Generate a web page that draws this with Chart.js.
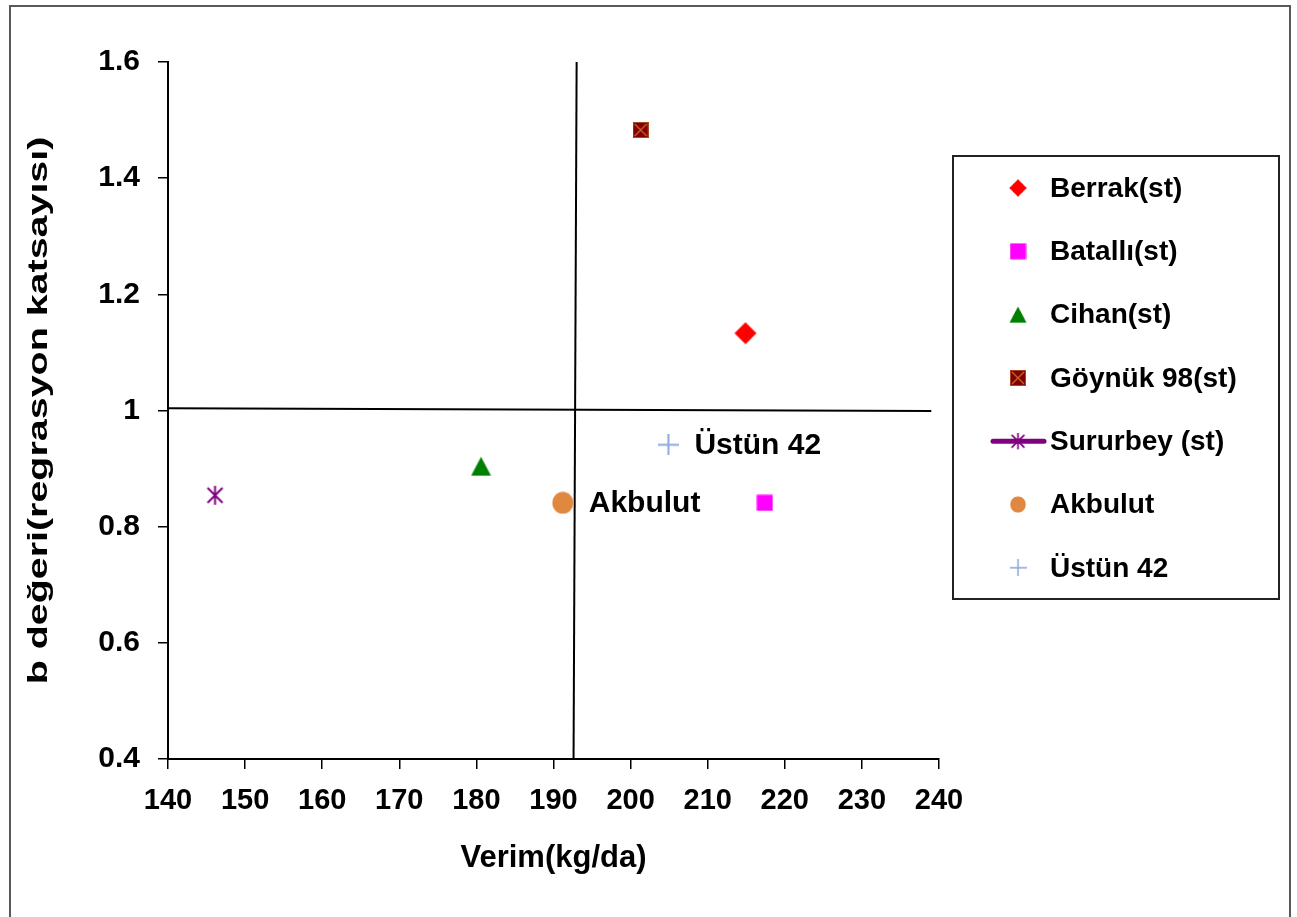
<!DOCTYPE html>
<html><head><meta charset="utf-8">
<script src="https://cdn.jsdelivr.net/npm/chart.js@4.4.0/dist/chart.umd.min.js"></script>
<style>html,body{margin:0;padding:0;background:#fff;overflow:hidden}#wrap{position:relative;width:1297px;height:917px}</style>
</head><body><div id="wrap"><canvas id="c" width="1297" height="917"></canvas></div>
<script>
// ---- data ----
const seriesNames = ['Berrak(st)', 'Batallı(st)', 'Cihan(st)', 'Göynük 98(st)', 'Sururbey (st)', 'Akbulut', 'Üstün 42'];
const verim = [214.9, 217.4, 180.6, 201.3, 146.1, 191.2, 204.9];
const bDegeri = [1.133, 0.841, 0.904, 1.483, 0.854, 0.841, 0.941];
const seriesColors = ['#FF0000', '#FF00FF', '#008000', '#800000', '#800080', '#E0883F', '#8EA9DB'];
const xTickValues = [140, 150, 160, 170, 180, 190, 200, 210, 220, 230, 240];
const yTickValues = [0.4, 0.6, 0.8, 1.0, 1.2, 1.4, 1.6];
const vLineX = [193.0, 192.6];
const vLineY = [1.6, 0.4];
const hLineX = [140, 239];
const hLineY = [1.004, 0.999];
const labeledSeries = ['Akbulut', 'Üstün 42'];
const xTitle = 'Verim(kg/da)';
const yTitle = 'b değeri(regrasyon katsayısı)';

const FONT = "'Liberation Sans', Arial, sans-serif";

// ---- marker images ----
function mk(w, h, fn) {
  const c = document.createElement('canvas');
  c.width = w; c.height = h;
  const g = c.getContext('2d');
  fn(g, w, h);
  return c;
}
const markers = [
  mk(24, 24, (g) => { g.fillStyle = '#FF0000'; g.beginPath(); g.moveTo(12, 1); g.lineTo(23, 12); g.lineTo(12, 23); g.lineTo(1, 12); g.closePath(); g.fill(); }),
  mk(17, 17, (g) => { g.fillStyle = '#FF00FF'; g.fillRect(0.5, 0.5, 16, 16); }),
  mk(21, 20, (g) => { g.fillStyle = '#008000'; g.beginPath(); g.moveTo(10.5, 0.5); g.lineTo(20.5, 19.5); g.lineTo(0.5, 19.5); g.closePath(); g.fill(); }),
  mk(16, 16, (g) => { g.fillStyle = '#800000'; g.fillRect(0.5, 0.5, 15, 15); g.strokeStyle = '#C8642C'; g.lineWidth = 1.4; g.beginPath(); g.moveTo(2, 2); g.lineTo(14, 14); g.moveTo(14, 2); g.lineTo(2, 14); g.stroke(); g.strokeStyle='#A84828'; g.lineWidth=1; g.strokeRect(0.5,0.5,15,15); }),
  mk(19, 21, (g) => { g.strokeStyle = '#800080'; g.lineWidth = 2; g.beginPath(); g.moveTo(9.5, 1); g.lineTo(9.5, 20); g.moveTo(2, 3); g.lineTo(17, 18); g.moveTo(17, 3); g.lineTo(2, 18); g.stroke(); }),
  mk(22, 23, (g) => { g.fillStyle = '#E0883F'; g.beginPath(); g.ellipse(11, 11.5, 10.5, 11, 0, 0, Math.PI * 2); g.fill(); }),
  mk(21, 21, (g) => { g.strokeStyle = '#8EA9DB'; g.lineWidth = 2; g.beginPath(); g.moveTo(10.5, 0); g.lineTo(10.5, 21); g.moveTo(0, 10.5); g.lineTo(21, 10.5); g.stroke(); })
];
const legendSize = [19, 17, 18, 16, 18, 17, 17];

const datasets = seriesNames.map((n, i) => ({
  label: n,
  data: [{ x: verim[i], y: bDegeri[i] }],
  pointStyle: markers[i],
  pointRadius: 12,
  backgroundColor: seriesColors[i],
  borderColor: seriesColors[i],
  showLine: false
}));
datasets.push({ label: '_v', data: vLineX.map((x, i) => ({ x, y: vLineY[i] })), showLine: true, borderColor: '#000', borderWidth: 2, pointRadius: 0 });
datasets.push({ label: '_h', data: hLineX.map((x, i) => ({ x, y: hLineY[i] })), showLine: true, borderColor: '#000', borderWidth: 2, pointRadius: 0 });

const decor = {
  id: 'decor',
  afterDraw(chart) {
    const ctx = chart.ctx;
    const xs = chart.scales.x, ys = chart.scales.y;
    ctx.save();
    // outer frame
    ctx.strokeStyle = '#595959'; ctx.lineWidth = 2;
    ctx.beginPath(); ctx.moveTo(10, 930); ctx.lineTo(10, 6); ctx.lineTo(1290, 6); ctx.lineTo(1290, 930); ctx.stroke();
    // y axis title (stretched along its length as in the original)
    ctx.save();
    ctx.fillStyle = '#000'; ctx.font = 'bold 27px ' + FONT; ctx.textAlign = 'center'; ctx.textBaseline = 'middle';
    ctx.translate(40, (ys.top + ys.bottom) / 2);
    ctx.rotate(-Math.PI / 2);
    ctx.scale(1.46, 1);
    ctx.fillText(yTitle, 0, 0);
    ctx.restore();
    // data labels
    ctx.fillStyle = '#000'; ctx.font = 'bold 30px ' + FONT; ctx.textBaseline = 'middle'; ctx.textAlign = 'left';
    labeledSeries.forEach(name => {
      const i = seriesNames.indexOf(name);
      const px = xs.getPixelForValue(verim[i]), py = ys.getPixelForValue(bDegeri[i]);
      ctx.fillText(name, px + 26, py + 1);
    });
    // legend box
    ctx.strokeStyle = '#222'; ctx.lineWidth = 2;
    ctx.strokeRect(953, 156, 326, 443);
    ctx.font = 'bold 28px ' + FONT; ctx.fillStyle = '#000';
    seriesNames.forEach((n, i) => {
      const cy = 188 + i * 63.3;
      if (i === 4) {
        ctx.strokeStyle = '#800080'; ctx.lineWidth = 5; ctx.lineCap = 'round';
        ctx.beginPath(); ctx.moveTo(993, cy); ctx.lineTo(1044, cy); ctx.stroke();
      }
      const m = markers[i];
      const s = legendSize[i] / Math.max(m.width, m.height);
      const w = m.width * s, h = m.height * s;
      ctx.drawImage(m, 1018 - w / 2, cy - h / 2, w, h);
      ctx.fillText(n, 1050, cy + 1);
    });
    ctx.restore();
  }
};

new Chart(document.getElementById('c'), {
  type: 'scatter',
  data: { datasets },
  options: {
    responsive: false,
    devicePixelRatio: 1,
    animation: false,
    events: [],
    layout: { padding: { left: 0, top: 62, right: 358, bottom: 0 } },
    plugins: { legend: { display: false }, tooltip: { enabled: false } },
    scales: {
      x: {
        type: 'linear', min: 140, max: 240,
        afterFit(s) { s.height = 158; },
        afterBuildTicks(s) { s.ticks = xTickValues.map(v => ({ value: v })); },
        ticks: { color: '#000', font: { family: FONT, weight: 'bold', size: 29 }, padding: 15, maxRotation: 0, autoSkip: false },
        grid: { drawOnChartArea: false, drawTicks: true, tickLength: 10, color: '#000', lineWidth: 1.5 },
        border: { color: '#000', width: 2 },
        title: { display: true, text: xTitle, color: '#000', font: { family: FONT, weight: 'bold', size: 31 }, padding: { top: 0, bottom: 40 } }
      },
      y: {
        type: 'linear', min: 0.4, max: 1.6,
        afterFit(s) { s.width = 168; },
        afterBuildTicks(s) { s.ticks = yTickValues.map(v => ({ value: v })); },
        ticks: { color: '#000', font: { family: FONT, weight: 'bold', size: 30 }, padding: 18, callback: v => (Math.abs(v - 1) < 1e-9 ? '1' : v.toFixed(1)) },
        grid: { drawOnChartArea: false, drawTicks: true, tickLength: 10, color: '#000', lineWidth: 1.5 },
        border: { color: '#000', width: 2 },
        title: { display: false }
      }
    }
  },
  plugins: [decor]
});
</script>
</body></html>
